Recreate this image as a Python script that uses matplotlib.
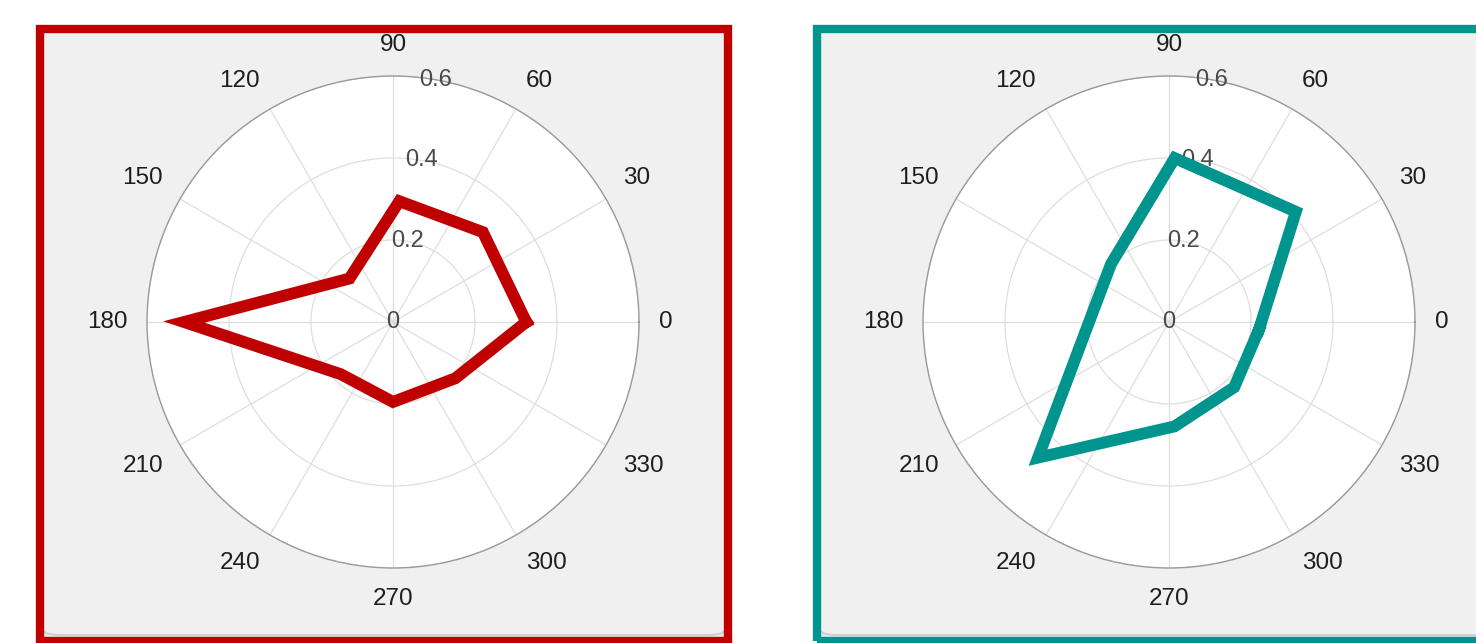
# -*- coding: utf-8 -*-
"""
Two polar plots side by side, each inside a coloured frame
"""

import numpy as np
import matplotlib.pyplot as plt
from matplotlib.patches import Rectangle, FancyBboxPatch

# data (angles in degrees, radius values)
theta_left = [0, 45, 87, 135, 180, 225, 270, 318]
r_left = [0.325, 0.31, 0.295, 0.15, 0.51, 0.18, 0.195, 0.205]
theta_right = [355, 41, 88, 135, 180, 226, 273, 315]
r_right = [0.22, 0.41, 0.40, 0.20, 0.195, 0.46, 0.255, 0.225]
r_ticks = [0, 0.2, 0.4, 0.6]
r_tick_labels = ['0', '0.2', '0.4', '0.6']
theta_ticks = list(range(0, 360, 30))
theta_labels = [str(t) for t in theta_ticks]

colors = ['#c00000', '#00948f']

W, H = 1476, 643
plt.rcParams['font.family'] = ['Liberation Sans', 'DejaVu Sans']

fig = plt.figure(figsize=(W / 100, H / 100), dpi=100)


def px_box(x0, y0, x1, y1):
    """pixel box (top-left origin) -> figure fraction [l, b, w, h]"""
    return [x0 / W, 1 - y1 / H, (x1 - x0) / W, (y1 - y0) / H]


def frame(x0, x1, color):
    """gray panel with coloured border"""
    l, b, w, h = px_box(x0, 29, x1, 641)
    fig.patches.append(Rectangle((l, b), w, h, transform=fig.transFigure,
                                 facecolor='#e6e6e6', edgecolor='none', zorder=0))
    l2, b2, w2, h2 = px_box(x0 + 2, 29, x1 - 2, 635)
    fig.patches.append(FancyBboxPatch((l2, b2), w2, h2, transform=fig.transFigure,
                                      boxstyle='round,pad=0,rounding_size=0.012',
                                      facecolor='#f0f0f0', edgecolor='#cccccc',
                                      lw=1.2, zorder=0.5))
    l3, b3, w3, h3 = px_box(x0 + 2, 29, x1 - 2, 600)
    fig.patches.append(Rectangle((l3, b3), w3, h3, transform=fig.transFigure,
                                 facecolor='#f0f0f0', edgecolor='none', zorder=0.6))
    fig.patches.append(Rectangle((l, b), w, h, transform=fig.transFigure,
                                 facecolor='none', edgecolor=color, lw=6,
                                 joinstyle='miter', zorder=1))


def polar_panel(cx, t_vals, r_vals, color):
    rad = 246
    ax = fig.add_axes(px_box(cx - rad, 322 - rad, cx + rad, 322 + rad),
                      projection='polar')
    ax.set_zorder(2)
    ax.set_facecolor('white')
    th = np.deg2rad(list(t_vals) + [t_vals[0]])
    rv = list(r_vals) + [r_vals[0]]
    ax.plot(th, rv, color=color, lw=8.5, solid_joinstyle='miter', zorder=5)
    ax.set_ylim(0, 0.6)
    ax.set_rticks(r_ticks)
    ax.set_yticklabels([])
    ax.set_thetagrids(theta_ticks, labels=[''] * len(theta_ticks))
    ax.grid(True, color='#dedede', lw=0.9)
    ax.spines['polar'].set_color('#9a9a9a')
    ax.spines['polar'].set_linewidth(1.0)
    ax.tick_params(length=0)
    # angle labels just outside the circle, aligned away from the centre
    for t, lab in zip(theta_ticks, theta_labels):
        c, s = np.cos(np.deg2rad(t)), np.sin(np.deg2rad(t))
        ha = 'left' if c > 0.1 else ('right' if c < -0.1 else 'center')
        va = 'bottom' if s > 0.1 else ('top' if s < -0.1 else 'center')
        ax.text(np.deg2rad(t), 0.648, lab, ha=ha, va=va,
                fontsize=17.5, color='#1e1e1e', clip_on=False)
    for r, lab in zip(r_ticks, r_tick_labels):
        ang = 80 if r > 0 else 0
        ax.text(np.deg2rad(ang), r, lab, ha='center', va='center',
                fontsize=17, color='#4a4a4a', zorder=4)
    return ax


frame(40, 728, colors[0])
frame(817, 1500, colors[1])
polar_panel(393, theta_left, r_left, colors[0])
polar_panel(1169, theta_right, r_right, colors[1])

fig.savefig('out.png', dpi=100, facecolor='white')
